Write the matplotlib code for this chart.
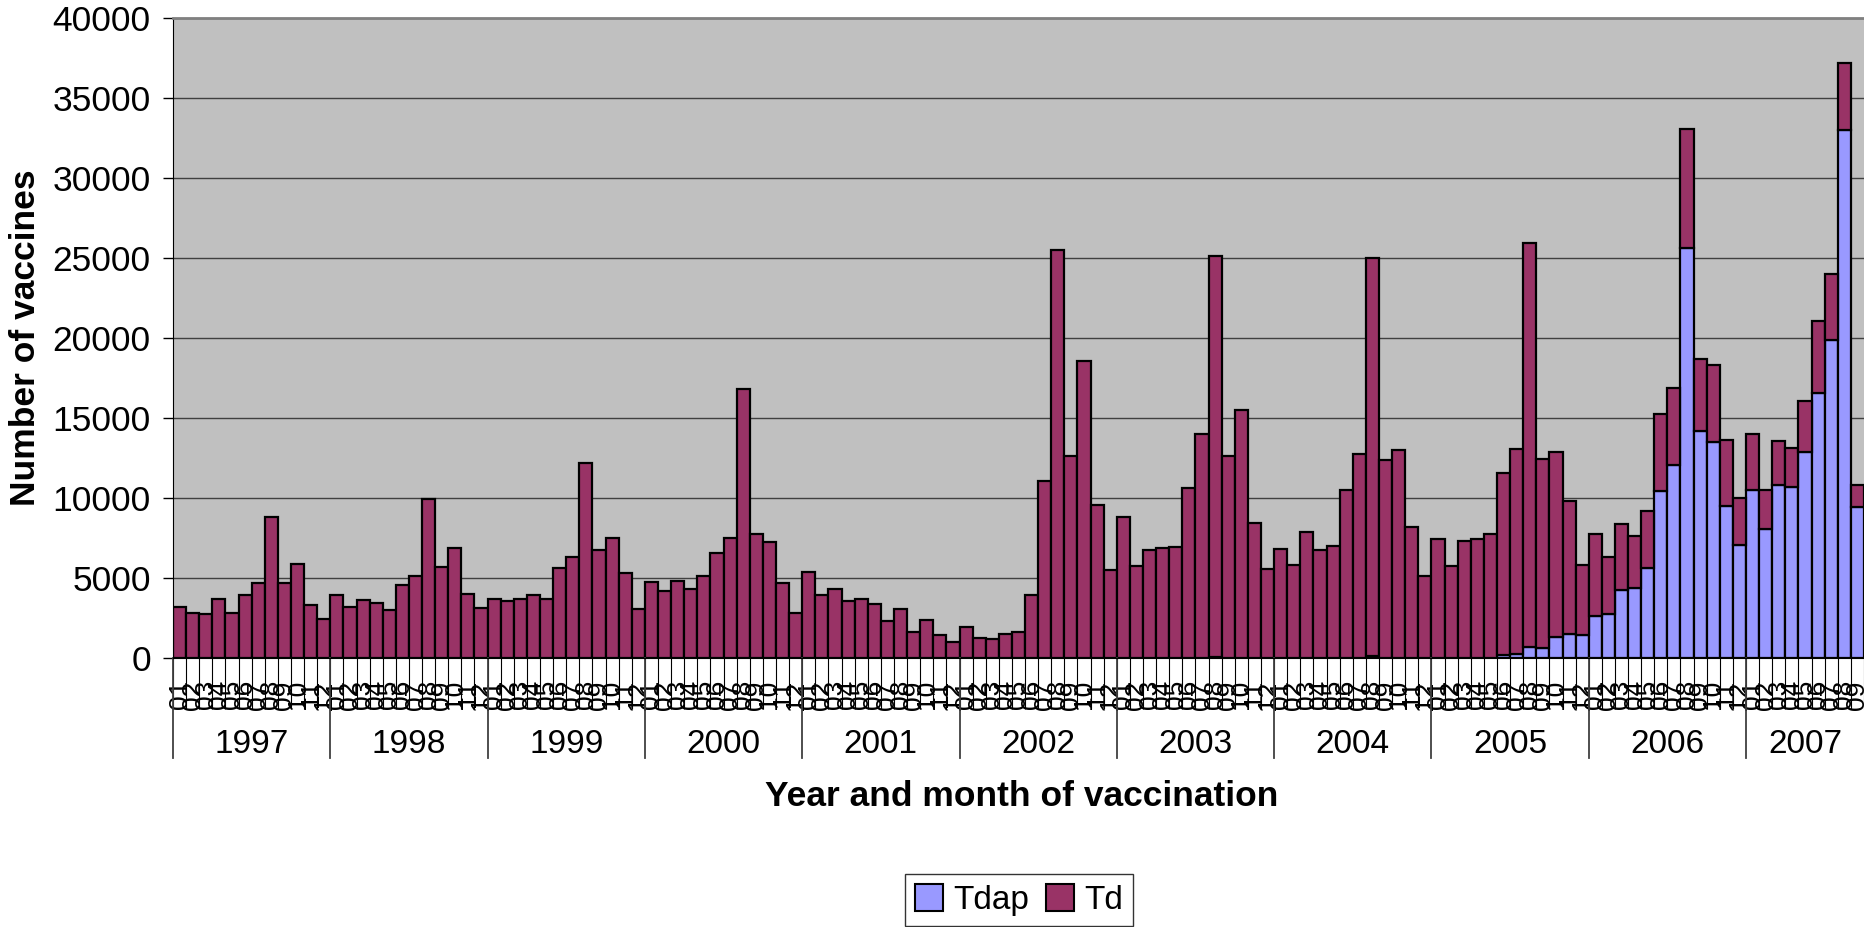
import numpy as np
import matplotlib
matplotlib.use("Agg")
import matplotlib.pyplot as plt
from matplotlib.patches import Patch

plt.rcParams['font.family'] = ['Liberation Sans', 'DejaVu Sans']

years = [1997, 1998, 1999, 2000, 2001, 2002, 2003, 2004, 2005, 2006, 2007]
months_per_year = [12, 12, 12, 12, 12, 12, 12, 12, 12, 12, 9]
month_names = ['01', '02', '03', '04', '05', '06', '07', '08', '09', '10', '11', '12']

# Td doses per month (one row per year)
td = [
    3200, 2800, 2770, 3690, 2810, 3920, 4670, 8830, 4690, 5850, 3290, 2440,
    3940, 3210, 3600, 3440, 2980, 4580, 5100, 9960, 5710, 6900, 4000, 3100,
    3670, 3540, 3690, 3920, 3710, 5620, 6290, 12170, 6770, 7520, 5330, 3080,
    4770, 4170, 4830, 4330, 5100, 6580, 7480, 16830, 7730, 7250, 4690, 2790,
    5400, 3920, 4290, 3540, 3690, 3380, 2290, 3060, 1600, 2350, 1420, 1000,
    1940, 1230, 1190, 1520, 1600, 3940, 11080, 25520, 12600, 18580, 9580, 5500,
    8810, 5730, 6730, 6870, 6960, 10600, 13980, 25100, 12630, 15500, 8440, 5550,
    6800, 5830, 7850, 6730, 7020, 10520, 12690, 24840, 12370, 13000, 8170, 5100,
    7460, 5750, 7330, 7460, 7730, 11400, 12810, 25260, 11850, 11610, 8270, 4400,
    5130, 3560, 4130, 3210, 3540, 4810, 4760, 7470, 4530, 4810, 4100, 2940,
    3480, 2450, 2770, 2440, 3210, 4510, 4130, 4190, 1350,
]

# Tdap doses per month
tdap = [
    0, 0, 0, 0, 0, 0, 0, 0, 0, 0, 0, 0,
    0, 0, 0, 0, 0, 0, 0, 0, 0, 0, 0, 0,
    0, 0, 0, 0, 0, 0, 0, 0, 0, 0, 0, 0,
    0, 0, 0, 0, 0, 0, 0, 0, 0, 0, 0, 0,
    0, 0, 0, 0, 0, 0, 0, 0, 0, 0, 0, 0,
    0, 0, 0, 0, 0, 0, 0, 0, 0, 0, 0, 0,
    0, 0, 0, 0, 0, 0, 0, 50, 0, 0, 0, 0,
    0, 0, 0, 0, 0, 0, 30, 150, 0, 0, 0, 0,
    0, 0, 0, 0, 30, 160, 270, 700, 600, 1290, 1530, 1410,
    2640, 2740, 4240, 4400, 5620, 10430, 12090, 25620, 14160, 13480, 9510, 7060,
    10490, 8070, 10790, 10710, 12880, 16570, 19890, 32980, 9460,
]

td_color = '#993366'
tdap_color = '#9999FF'

W, H = 1864, 927
fig = plt.figure(figsize=(W / 100, H / 100), dpi=100)
ax = fig.add_axes([173 / W, 1 - 658 / H, 1 - 173 / W, (658 - 18) / H])
ax.set_facecolor('#C0C0C0')

x = np.arange(len(td))
ax.bar(x, tdap, width=1.0, color=tdap_color, edgecolor='black', linewidth=1.6)
ax.bar(x, td, bottom=tdap, width=1.0, color=td_color, edgecolor='black', linewidth=1.6)

ax.set_xlim(-0.5, len(td) - 1 + 0.42)
ax.set_ylim(0, 40000)
ax.set_yticks(np.arange(0, 40001, 5000))
ax.yaxis.grid(True, color='#404040', linewidth=1.0)
ax.set_axisbelow(True)

ax.spines['right'].set_visible(False)
ax.spines['top'].set_color('#808080')
ax.spines['top'].set_linewidth(2)
ax.spines['left'].set_color('black')
ax.spines['bottom'].set_color('black')

ax.tick_params(axis='y', length=7, width=1, labelsize=25.5, pad=9, color='black')

# month labels and category boundary ticks
labels = []
for n in months_per_year:
    labels += month_names[:n]
ax.set_xticks(x)
ax.set_xticklabels(labels, rotation=90, fontsize=19)
ax.tick_params(axis='x', which='major', length=0, pad=16)
ax.set_xticks(np.arange(len(td) + 1) - 0.5, minor=True)
ax.tick_params(axis='x', which='minor', length=37, width=0.8, color='black')

# year dividers and labels
trans = ax.get_xaxis_transform()
start = 0
for yr, n in zip(years, months_per_year):
    ax.plot([start - 0.5, start - 0.5], [0, -0.157], transform=trans,
            color='#404040', linewidth=1.3, clip_on=False)
    ax.text(start + (n - 1) / 2, -0.135, str(yr), transform=trans,
            ha='center', va='center', fontsize=24)
    start += n

fig.text(1022 / W, 1 - 796 / H, 'Year and month of vaccination',
         ha='center', va='center', fontsize=25.5, fontweight='bold')
fig.text(26 / W, 1 - 338 / H, 'Number of vaccines', rotation=90,
         ha='center', va='center', fontsize=25.5, fontweight='bold')

handles = [Patch(facecolor=tdap_color, edgecolor='black', linewidth=1.5, label='Tdap'),
           Patch(facecolor=td_color, edgecolor='black', linewidth=1.5, label='Td')]
leg = fig.legend(handles=handles, loc='center', bbox_to_anchor=(1019 / W, 1 - 900 / H),
                 ncol=2, fontsize=24, frameon=True, fancybox=False,
                 handlelength=0.85, handleheight=0.85, handletextpad=0.3,
                 columnspacing=0.5, borderpad=0.3)
leg.get_frame().set_edgecolor('black')
leg.get_frame().set_linewidth(1.0)

fig.savefig('out.png', dpi=100)
